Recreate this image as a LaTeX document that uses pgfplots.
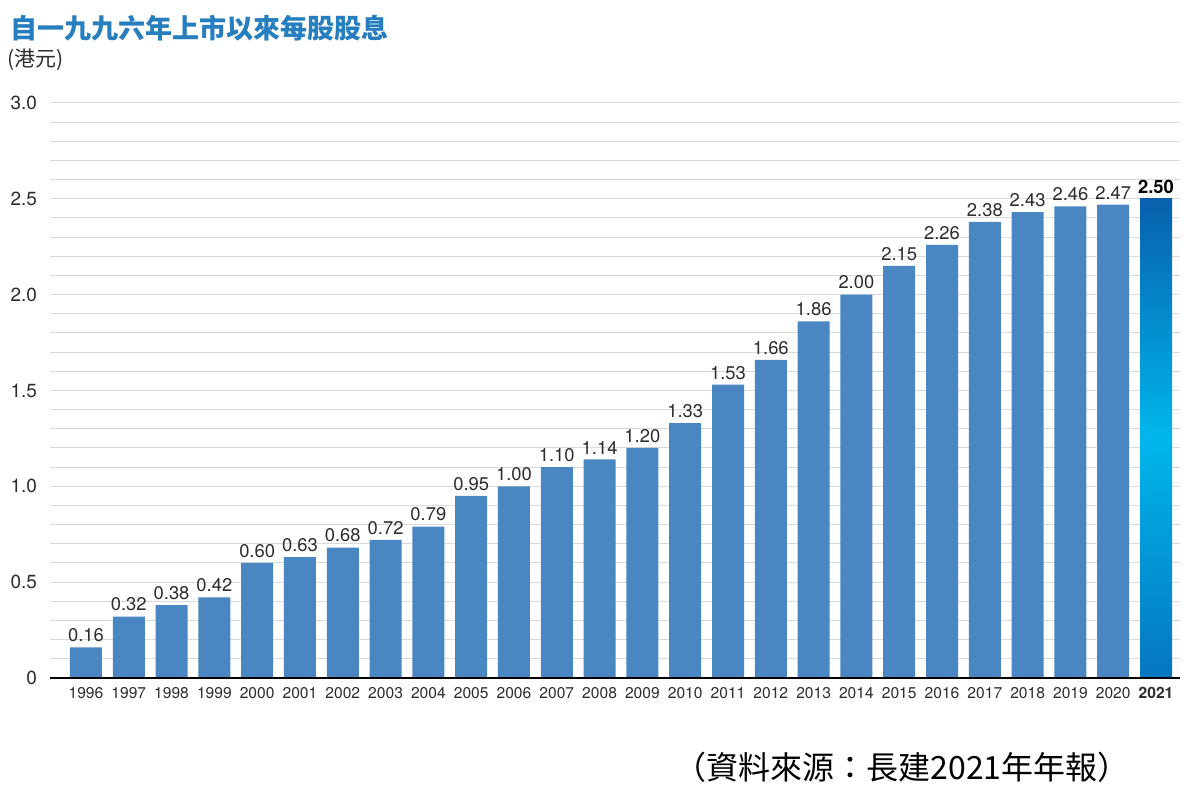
\documentclass[border=0pt]{standalone}
\usepackage{pgfplots}
\pgfplotsset{compat=1.18}
\usepackage{fontspec}
\setmainfont{TeX Gyre Heros}
\newfontfamily\cjk{Noto Sans CJK TC}

\definecolor{barblue}{RGB}{74,134,194}
\definecolor{titleblue}{RGB}{38,126,190}
\definecolor{gridgray}{RGB}{218,218,218}
\definecolor{labelgray}{RGB}{45,45,45}
\definecolor{gradtop}{RGB}{8,96,172}
\definecolor{gradmid}{RGB}{0,182,236}
\definecolor{gradbot}{RGB}{6,118,192}

\pgfkeys{/pgf/number format/assume math mode=true}

\begin{document}
\begin{tikzpicture}
\path[use as bounding box] (0,0) rectangle (600pt,398pt);

% heading and unit
\node[anchor=west, inner sep=0pt, text=titleblue, font=\cjk\bfseries\fontsize{13.5pt}{15pt}\selectfont]
  at (5pt,384pt) {自一九九六年上市以來每股股息};
\node[anchor=west, inner sep=0pt, text=labelgray, font=\cjk\fontsize{10.5pt}{12pt}\selectfont]
  at (3.5pt,368pt) {(港元)};

\begin{axis}[
  at={(25pt,59pt)}, anchor=south west,
  scale only axis, width=565pt, height=287.5pt,
  xmin=-0.84, xmax=25.56, ymin=0, ymax=3,
  axis line style={draw=none},
  tick style={draw=none},
  ytick={0,0.5,1,1.5,2,2.5,3},
  yticklabels={0,0.5,1.0,1.5,2.0,2.5,3.0},
  minor y tick num=4,
  ymajorgrids, yminorgrids,
  major grid style={gridgray, line width=0.5pt},
  minor grid style={gridgray, line width=0.5pt},
  yticklabel style={font=\fontsize{9.5pt}{11pt}\selectfont, text=labelgray, xshift=-3pt},
  xtick={0,...,25},
  xticklabels={1996,1997,1998,1999,2000,2001,2002,2003,2004,2005,2006,2007,2008,2009,2010,2011,2012,2013,2014,2015,2016,2017,2018,2019,2020,\textbf{2021}},
  xticklabel style={font=\fontsize{7.8pt}{9pt}\selectfont, text=labelgray, yshift=-1.2pt},
  nodes near coords={\pgfmathprintnumber[fixed,fixed zerofill,precision=2]{\pgfplotspointmeta}},
  nodes near coords style={font=\fontsize{9.2pt}{11pt}\selectfont, text=labelgray, inner sep=2.5pt},
  clip=false,
]
\addplot[ybar, bar width=16pt, draw=none, fill=barblue] coordinates {
  (0,0.16) (1,0.32) (2,0.38) (3,0.42) (4,0.60) (5,0.63) (6,0.68) (7,0.72)
  (8,0.79) (9,0.95) (10,1.00) (11,1.10) (12,1.14) (13,1.20) (14,1.33)
  (15,1.53) (16,1.66) (17,1.86) (18,2.00) (19,2.15) (20,2.26) (21,2.38)
  (22,2.43) (23,2.46) (24,2.47)
};
\addplot[ybar, bar width=16pt, draw=none,
  top color=gradtop, bottom color=gradbot, middle color=gradmid,
  nodes near coords style={font=\bfseries\fontsize{9.2pt}{11pt}\selectfont, text=black}]
  coordinates {(25,2.50)};
\draw[black, line width=1pt] (rel axis cs:0,0) -- (rel axis cs:1,0);
\end{axis}

% source note
\node[anchor=center, inner sep=0pt, text=black, font=\cjk\fontsize{16pt}{18pt}\selectfont]
  at (451pt,14.5pt) {（資料來源：長建2021年年報）};
\end{tikzpicture}
\end{document}
